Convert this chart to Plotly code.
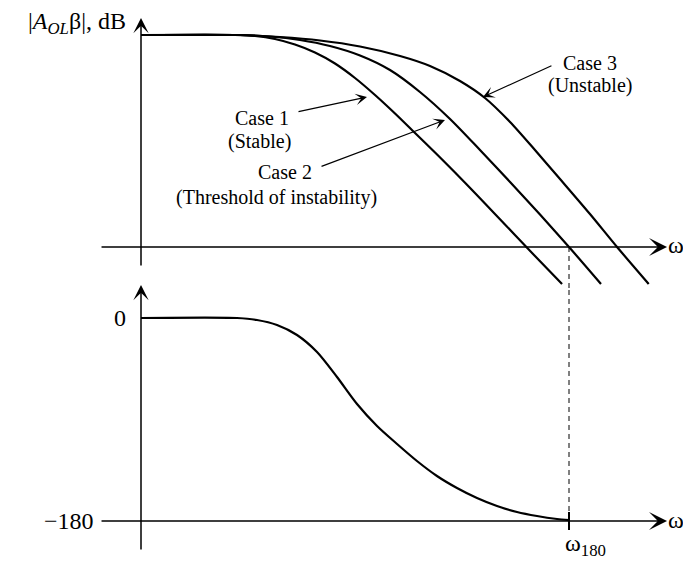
import plotly.graph_objects as go

# ---- data (x = log-frequency units, magnitude in dB, phase in degrees) ----
case1_x = [0, 0.879, 1.065, 1.252, 1.439, 1.626, 1.813, 2.0, 2.187, 2.374, 2.561, 2.748,
           2.935, 3.121, 3.308, 3.495, 3.682, 3.935]
case1_mag = [60, 60, 59.72, 58.87, 57.31, 55.05, 51.93, 47.83, 43.02, 37.78, 32.26, 26.75,
             21.08, 15.28, 9.34, 3.40, -2.55, -10.47]

case2_x = [0, 0.925, 1.206, 1.486, 1.766, 2.047, 2.327, 2.607, 2.888, 3.168, 3.449, 3.729,
           4.0, 4.299]
case2_mag = [60, 60, 59.58, 58.59, 56.89, 54.20, 50.09, 43.87, 36.23, 27.45, 18.40, 9.20,
             0, -10.47]

case3_x = [0, 0.925, 1.299, 1.673, 2.047, 2.421, 2.701, 2.981, 3.215, 3.449, 3.682, 3.916,
           4.196, 4.449, 4.745]
case3_mag = [60, 60, 59.43, 58.44, 56.75, 54.06, 51.23, 46.98, 42.17, 35.38, 27.45, 19.25,
             9.34, 0, -10.47]

phase_x = [0, 0.897, 1.084, 1.271, 1.458, 1.645, 1.832, 2.019, 2.206, 2.393, 2.579, 2.766,
           2.953, 3.140, 3.327, 3.514, 3.701, 3.888, 4.0]
phase_deg = [0, 0, -1.77, -6.21, -15.07, -30.15, -52.32, -76.26, -95.76, -111.72, -126.80,
             -140.10, -150.74, -159.61, -166.70, -172.02, -175.57, -178.23, -179.3]

w180_x = 4.0
phase_ticks = [0, -180]
phase_tick_labels = ["0", "\u2212180"]

case_labels = ["Case 1", "(Stable)", "Case 2", "(Threshold of instability)", "Case 3", "(Unstable)"]

FONT = "Liberation Serif, Times New Roman, serif"
LINE = dict(color="black", width=2.2, shape="spline", smoothing=0.8)

fig = go.Figure()
for xs, ys in [(case1_x, case1_mag), (case2_x, case2_mag), (case3_x, case3_mag)]:
    fig.add_trace(go.Scatter(x=xs, y=ys, mode="lines", line=LINE, xaxis="x", yaxis="y",
                             hoverinfo="skip", showlegend=False))
fig.add_trace(go.Scatter(x=phase_x, y=phase_deg, mode="lines", line=LINE, xaxis="x2", yaxis="y2",
                         hoverinfo="skip", showlegend=False))

XR = [-1.2430, 5.1402]
fig.update_layout(
    width=683, height=556,
    margin=dict(l=0, r=0, t=0, b=0, pad=0),
    paper_bgcolor="white", plot_bgcolor="white",
    xaxis=dict(domain=[0, 1], range=XR, visible=False, anchor="y"),
    yaxis=dict(domain=[0.49281, 1], range=[-12.17, 67.642], visible=False, anchor="x"),
    xaxis2=dict(domain=[0, 1], range=XR, visible=False, anchor="y2"),
    yaxis2=dict(domain=[0, 0.49281], range=[-218.13, 24.83], visible=False, anchor="x2"),
    font=dict(family=FONT, color="black"),
)

ann = []

def arrow(x, y, ax, ay, xr, yr, width=1.5, size=1.6, head=3):
    ann.append(dict(x=x, y=y, ax=ax, ay=ay, xref=xr, yref=yr, axref=xr, ayref=yr,
                    text="", showarrow=True, arrowhead=head, arrowsize=size,
                    arrowwidth=width, arrowcolor="black", standoff=0, startstandoff=0))

# axes
arrow(0, 64.81, 0, -5.66, "x", "y", size=1.7)
arrow(4.916, 0, -0.383, 0, "x", "y", size=2.0)
arrow(0, 29.26, 0, -206.6, "x2", "y2", size=1.7)
arrow(4.916, -180, -0.383, -180, "x2", "y2", size=2.0)

# case pointers
arrow(2.112, 42.45, 1.458, 38.21, "x", "y", width=1.2, size=1.6)
arrow(2.841, 35.94, 1.673, 22.64, "x", "y", width=1.2, size=1.6)
arrow(3.196, 42.45, 3.850, 51.51, "x", "y", width=1.2, size=1.6)

def text(t, x, y, xr, yr, size=20, xanchor="center"):
    ann.append(dict(x=x, y=y, xref=xr, yref=yr, text=t, showarrow=False,
                    xanchor=xanchor, yanchor="middle",
                    font=dict(family=FONT, size=size, color="black")))

text(case_labels[0], 1.131, 36.51, "x", "y")
text(case_labels[1], 1.112, 29.72, "x", "y")
text(case_labels[2], 1.346, 21.23, "x", "y")
text(case_labels[3], 1.262, 14.15, "x", "y")
text(case_labels[4], 4.196, 52.08, "x", "y")
text(case_labels[5], 4.196, 45.57, "x", "y")

text("|<i>A</i><sub><i>OL</i></sub>\u03b2|, dB", -0.12, 63.4, "x", "y", size=24, xanchor="right")
text("\u2220<i>A</i><sub><i>OL</i></sub>\u03b2,\u00b0", -0.12, 26.6, "x2", "y2", size=24, xanchor="right")
text(phase_tick_labels[0], -0.12, phase_ticks[0], "x2", "y2", size=24, xanchor="right")
text(phase_tick_labels[1], -0.42, phase_ticks[1], "x2", "y2", size=24, xanchor="right")
text("\u03c9", 5.0, 0.6, "x", "y", size=24)
text("\u03c9", 5.0, -179, "x2", "y2", size=24)
text("\u03c9<sub>180</sub>", 4.15, -201, "x2", "y2", size=24)

fig.update_layout(annotations=ann)

fig.update_layout(shapes=[
    dict(type="line", xref="x", yref="y", x0=w180_x, x1=w180_x, y0=0, y1=-12.17,
         line=dict(color="black", width=1, dash="5px,4px")),
    dict(type="line", xref="x2", yref="y2", x0=w180_x, x1=w180_x, y0=24.83, y1=-180,
         line=dict(color="black", width=1, dash="5px,4px")),
    dict(type="line", xref="x2", yref="y2", x0=w180_x, x1=w180_x, y0=-172, y1=-188,
         line=dict(color="black", width=2)),
])

fig.write_html("out.html")
